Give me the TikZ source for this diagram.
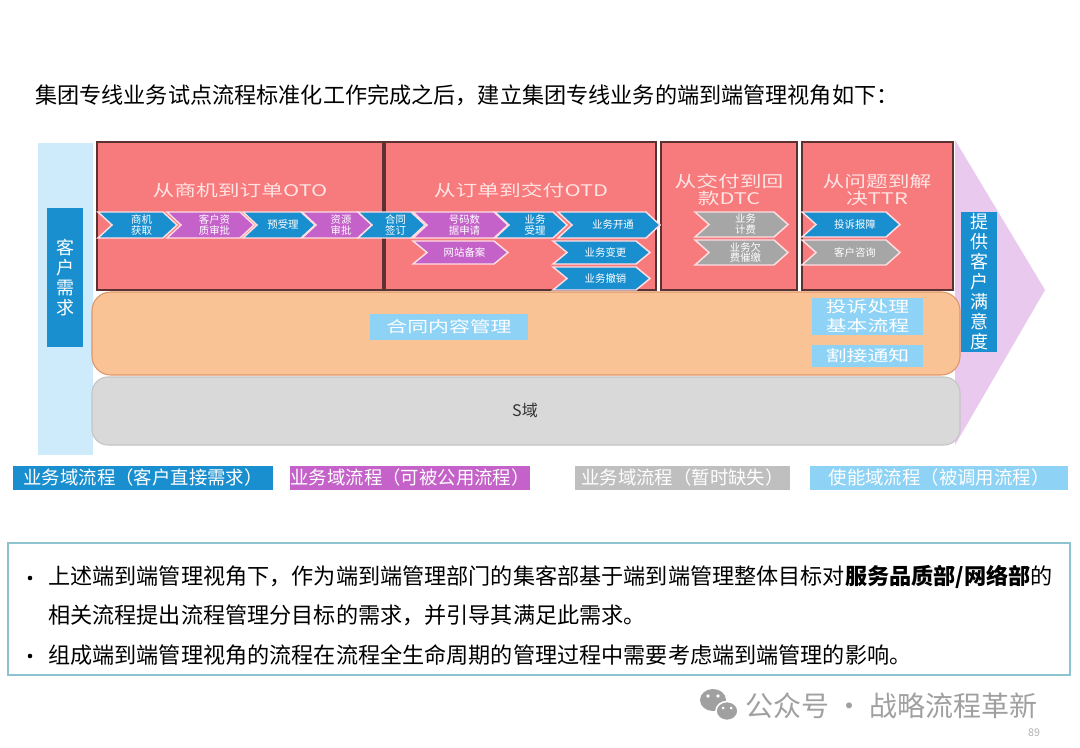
\documentclass[tikz,border=0pt]{standalone}
\usepackage{fontspec}
\setmainfont{Noto Sans CJK SC}
\newfontfamily\wf[FakeStretch=1.36]{Noto Sans CJK SC}
\definecolor{salmon}{RGB}{247,122,124}
\definecolor{dblue}{RGB}{26,143,207}
\definecolor{purp}{RGB}{196,98,201}
\definecolor{cgrey}{RGB}{166,166,166}
\definecolor{lblue}{RGB}{142,211,245}
\definecolor{pale}{RGB}{205,235,250}
\definecolor{peach}{RGB}{249,195,150}
\definecolor{peachd}{RGB}{222,150,105}
\definecolor{sgrey}{RGB}{217,217,217}
\definecolor{sgreyd}{RGB}{196,196,196}
\definecolor{lilac}{RGB}{233,201,238}
\definecolor{lgrey}{RGB}{191,191,191}
\definecolor{tealb}{RGB}{141,195,207}
\definecolor{ptext}{RGB}{255,228,228}
\definecolor{wm}{RGB}{160,160,160}
\definecolor{chevline}{RGB}{255,222,226}
\newcommand\chev[7]{%
  \filldraw[fill=#6, draw=chevline, line width=1.1pt, line join=miter]
    (#2,#4) -- (#3-14,#4) -- (#3,{(#4+#5)/2}) -- (#3-14,#5) -- (#2,#5) -- (#2+14,{(#4+#5)/2}) -- cycle;
  \node[chevtext] (#1) at ({(#2+#3)/2+4},{(#4+#5)/2}) {#7};}
\tikzset{
  redbox/.style={fill=salmon, draw={rgb,255:red,90;green,50;blue,50}, line width=0.8pt},
  boxtitle/.style={text=ptext, font=\wf\fontsize{12}{12.8}\selectfont, align=center, inner sep=0},
  chevtext/.style={text=white, font=\fontsize{7.8}{8.2}\selectfont, align=center, inner sep=0},
  vbox/.style={fill=dblue, text=white, font=\fontsize{13.5}{15}\selectfont, align=center, inner sep=0, minimum width=27pt},
  lbox/.style={fill=lblue, text=white, font=\wf\fontsize{11.5}{14}\selectfont, align=center, inner sep=0},
  legend/.style={text=white, font=\fontsize{13.8}{15}\selectfont, inner sep=0, minimum height=18pt},
  body/.style={anchor=west, inner sep=0, font=\fontsize{16.6}{18}\selectfont},
}
\begin{document}
\begin{tikzpicture}[x=0.75pt,y=-0.75pt]
\useasboundingbox (0,0) rectangle (1080,748);
\fill[white] (0,0) rectangle (1080,748);

% title
\node[body] (title) at (35,95) {集团专线业务试点流程标准化工作完成之后，建立集团专线业务的端到端管理视角如下：};

% right arrow
\fill[lilac] (955,140) -- (1045,290) -- (955,445) -- cycle;
% left bar
\fill[pale] (38,143) rectangle (93,455);
% bars
\filldraw[fill=sgrey, draw=sgreyd, line width=0.8pt, rounded corners=12] (92,377) rectangle (960,445);
\node[font=\fontsize{12}{14}\selectfont, text=black!80] (sdomain) at (525,410) {S域};
\filldraw[fill=peach, draw=peachd, line width=0.8pt, rounded corners=14] (92,292) rectangle (960,375);

% red boxes
\draw[redbox] (97,142) rectangle (383,290);
\draw[redbox] (385,142) rectangle (656,290);
\draw[redbox] (661,142) rectangle (797,290);
\draw[redbox] (802,142) rectangle (953,290);
\node[boxtitle] (oto) at (240,190) {从商机到订单OTO};
\node[boxtitle] (otd) at (521,190) {从订单到交付OTD};
\node[boxtitle] (dtc) at (729,190) {从交付到回\\款DTC};
\node[boxtitle] (ttr) at (877,190) {从问题到解\\决TTR};

% chevrons
\chev{c1}{98}{177}{212}{238}{dblue}{商机\\获取}
\chev{c2}{167}{254}{212}{238}{purp}{客户资\\质审批}
\chev{c3}{243}{315}{212}{238}{dblue}{预受理}
\chev{c4}{302}{372}{212}{238}{purp}{资源\\审批}
\chev{c5}{358}{425}{212}{238}{dblue}{合同\\签订}
\chev{c6}{413}{508}{212}{238}{purp}{号码数\\据申请}
\chev{c7}{495}{567}{212}{238}{dblue}{业务\\受理}
\chev{c8}{558}{660}{212}{238}{dblue}{业务开通}
\chev{c9}{413}{508}{241}{264}{purp}{网站备案}
\chev{c10}{553}{650}{241}{264}{dblue}{业务变更}
\chev{c11}{553}{650}{267}{290}{dblue}{业务撤销}
\chev{c12}{695}{788}{212}{237}{cgrey}{业务\\计费}
\chev{c13}{695}{788}{240}{265}{cgrey}{业务欠\\费催缴}
\chev{c14}{802}{900}{212}{237}{dblue}{投诉报障}
\chev{c15}{802}{900}{240}{265}{cgrey}{客户咨询}

% light blue boxes
\node[lbox, minimum width=118.5pt, minimum height=19.5pt] (contract) at (449,327) {合同内容管理};
\node[lbox, minimum width=83pt, minimum height=28pt] (complaint) at (867.5,316.5) {投诉处理\\基本流程};
\node[lbox, minimum width=83pt, minimum height=16.5pt] (cutover) at (867.5,356) {割接通知};

% vertical boxes
\node[vbox, minimum height=104pt] (need) at (65,277.5) {客\\户\\需\\求};
\node[vbox, minimum height=105pt] (satis) at (979,282) {提\\供\\客\\户\\满\\意\\度};

% legend
\node[legend, fill=dblue, minimum width=195pt] (lg1) at (143,478) {业务域流程（客户直接需求）};
\node[legend, fill=purp, minimum width=172.5pt] (lg2) at (410,478) {业务域流程（可被公用流程）};
\node[legend, fill=lgrey, minimum width=161pt] (lg3) at (682.5,478) {业务域流程（暂时缺失）};
\node[legend, fill=lblue, minimum width=193.5pt] (lg4) at (939,478) {使能域流程（被调用流程）};

% bottom text box
\draw[tealb, line width=1pt] (8,543) rectangle (1070,675);
\fill[black] (30,578) circle (2.3);
\fill[black] (30,656) circle (2.3);
\node[body] (t1) at (48,577) {上述端到端管理视角下，作为端到端管理部门的集客部基于端到端管理整体目标对{\bfseries 服务品质部/网络部}的};
\node[body] (t2) at (48,615) {相关流程提出流程管理分目标的需求，并引导其满足此需求。};
\node[body] (t3) at (48,655) {组成端到端管理视角的流程在流程全生命周期的管理过程中需要考虑端到端管理的影响。};

% watermark
\fill[wm] (713,700) ellipse [x radius=13, y radius=11];
\filldraw[fill=wm, draw=white, line width=1.2pt] (727,711) ellipse [x radius=11, y radius=9.5];
\fill[white] (708,696) circle (1.8) (718,696) circle (1.8) (723,708) circle (1.5) (731,708) circle (1.5);
\node[anchor=west, inner sep=0, text=wm, font=\fontsize{21}{23}\selectfont] (wmtext) at (745,706) {公众号 · 战略流程革新};
\node[inner sep=0, text=black!30, font=\fontsize{8}{9}\selectfont] (page) at (1034,733) {89};
\end{tikzpicture}
\end{document}
